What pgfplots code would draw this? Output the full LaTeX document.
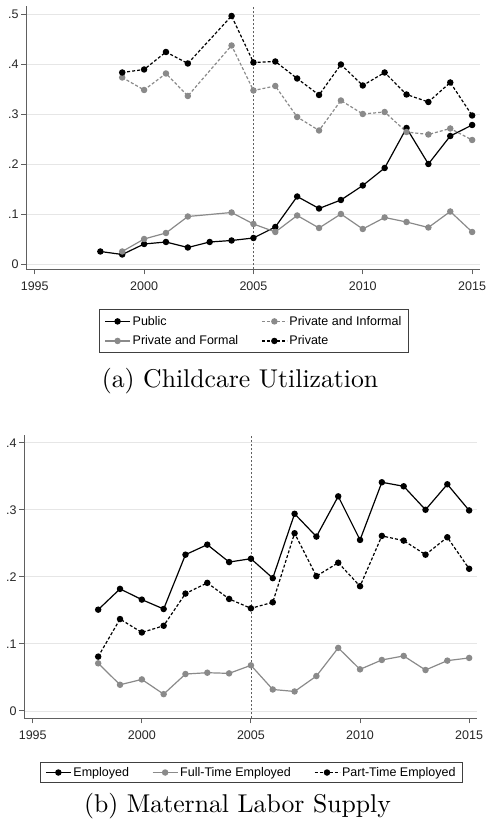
\documentclass[border=0pt]{standalone}
\usepackage{fontspec}
\newfontfamily\arial{Liberation Sans}
\usepackage{pgfplots}
\pgfplotsset{compat=1.18}

\definecolor{sgray}{HTML}{8A8A8A}
\definecolor{axgray}{HTML}{606060}
\definecolor{gridgray}{HTML}{E6E6E6}

\pgfplotsset{
  stata/.style={
    scale only axis,
    axis x line*=bottom,
    axis y line*=left,
    xmin=1994.6, xmax=2015.36,
    xtick={1995,2000,2005,2010,2015},
    xticklabels={1995,2000,2005,2010,2015},
    ymajorgrids,
    grid style={gridgray, line width=0.8pt},
    axis line style={axgray, line width=0.9pt},
    tick style={axgray, line width=0.9pt},
    tick align=outside,
    major tick length=5pt,
    ticklabel style={font=\arial\fontsize{12.5}{14}\selectfont, text=black!85},
    yticklabel style={xshift=1pt},
    xticklabel style={yshift=-3.5pt},
    legend cell align=left,
    legend style={draw=black!75, line width=0.6pt, anchor=north,
      font=\arial\fontsize{12.5}{14}\selectfont,
      inner xsep=5pt, inner ysep=2pt,
      nodes={inner xsep=2pt, inner ysep=3pt},
      /tikz/every even column/.append style={column sep=21pt}},
    legend image code/.code={
      \draw[mark repeat=2,mark phase=2,##1] plot coordinates {(0pt,0pt)(12.5pt,0pt)(25pt,0pt)};},
    every axis plot/.append style={line width=1.2pt, mark=*, mark size=2.6pt},
  },
  blk/.style={black, mark options={solid, fill=black}},
  gry/.style={sgray, mark options={solid, fill=sgray}},
  dsh/.style={dash pattern=on 3pt off 2pt},
  vline/.style={axgray, line width=0.6pt, dash pattern=on 2.5pt off 1.5pt, mark=none, forget plot},
}

\begin{document}
\begin{tikzpicture}
\path[use as bounding box] (0pt,0pt) rectangle (485pt,825pt);

% (a) childcare utilization
\begin{axis}[stata,
  at={(26pt,555.7pt)}, anchor=south west,
  width=454pt, height=263.3pt,
  ymin=-0.0106, ymax=0.516,
  ytick={0,0.1,0.2,0.3,0.4,0.5},
  yticklabels={0,.1,.2,.3,.4,.5},
  legend columns=2,
  legend style={at={(0.502,-0.152)},
    nodes={inner ysep=4.5pt}},
]
\addplot[vline] coordinates {(2005,-0.0106) (2005,0.516)};

\addplot[blk] coordinates {
  (1998,0.025) (1999,0.019) (2000,0.040) (2001,0.044) (2002,0.033)
  (2003,0.044) (2004,0.047) (2005,0.052) (2006,0.074) (2007,0.135)
  (2008,0.111) (2009,0.128) (2010,0.157) (2011,0.192) (2012,0.272)
  (2013,0.200) (2014,0.256) (2015,0.278)};
\addlegendentry{Public}

\addplot[gry, dsh] coordinates {
  (1999,0.373) (2000,0.348) (2001,0.381) (2002,0.336) (2004,0.437)
  (2005,0.347) (2006,0.356) (2007,0.294) (2008,0.267) (2009,0.327)
  (2010,0.300) (2011,0.304) (2012,0.264) (2013,0.259) (2014,0.271)
  (2015,0.248)};
\addlegendentry{Private and Informal}

\addplot[gry] coordinates {
  (1999,0.025) (2000,0.050) (2001,0.062) (2002,0.095) (2004,0.103)
  (2005,0.080) (2006,0.064) (2007,0.097) (2008,0.072) (2009,0.100)
  (2010,0.070) (2011,0.093) (2012,0.084) (2013,0.073) (2014,0.105)
  (2015,0.064)};
\addlegendentry{Private and Formal}

\addplot[blk, dsh] coordinates {
  (1999,0.383) (2000,0.389) (2001,0.424) (2002,0.401) (2004,0.496)
  (2005,0.403) (2006,0.405) (2007,0.371) (2008,0.338) (2009,0.399)
  (2010,0.357) (2011,0.383) (2012,0.339) (2013,0.324) (2014,0.363)
  (2015,0.297)};
\addlegendentry{Private}
\end{axis}

\node[scale=2.57, font=\fontsize{10}{12}\selectfont] at (240pt,444.3pt) {(a) Childcare Utilization};

% (b) maternal labor supply
\begin{axis}[stata,
  at={(24pt,106.7pt)}, anchor=south west,
  width=453pt, height=283.3pt,
  ymin=-0.011, ymax=0.4115,
  ytick={0,0.1,0.2,0.3,0.4},
  yticklabels={0,.1,.2,.3,.4},
  legend columns=3,
  legend style={at={(0.502,-0.154)}},
]
\addplot[vline] coordinates {(2005,-0.011) (2005,0.4115)};

\addplot[blk] coordinates {
  (1998,0.151) (1999,0.182) (2000,0.166) (2001,0.152) (2002,0.233)
  (2003,0.248) (2004,0.222) (2005,0.227) (2006,0.198) (2007,0.294)
  (2008,0.260) (2009,0.320) (2010,0.255) (2011,0.341) (2012,0.335)
  (2013,0.300) (2014,0.338) (2015,0.299)};
\addlegendentry{Employed}

\addplot[gry] coordinates {
  (1998,0.071) (1999,0.039) (2000,0.047) (2001,0.025) (2002,0.055)
  (2003,0.057) (2004,0.056) (2005,0.068) (2006,0.032) (2007,0.029)
  (2008,0.052) (2009,0.094) (2010,0.062) (2011,0.076) (2012,0.082)
  (2013,0.061) (2014,0.075) (2015,0.079)};
\addlegendentry{Full-Time Employed}

\addplot[blk, dsh] coordinates {
  (1998,0.081) (1999,0.137) (2000,0.117) (2001,0.127) (2002,0.175)
  (2003,0.191) (2004,0.167) (2005,0.153) (2006,0.162) (2007,0.265)
  (2008,0.201) (2009,0.221) (2010,0.186) (2011,0.261) (2012,0.254)
  (2013,0.233) (2014,0.259) (2015,0.212)};
\addlegendentry{Part-Time Employed}
\end{axis}

\node[scale=2.57, font=\fontsize{10}{12}\selectfont] at (237.5pt,19.2pt) {(b) Maternal Labor Supply};
\end{tikzpicture}
\end{document}
